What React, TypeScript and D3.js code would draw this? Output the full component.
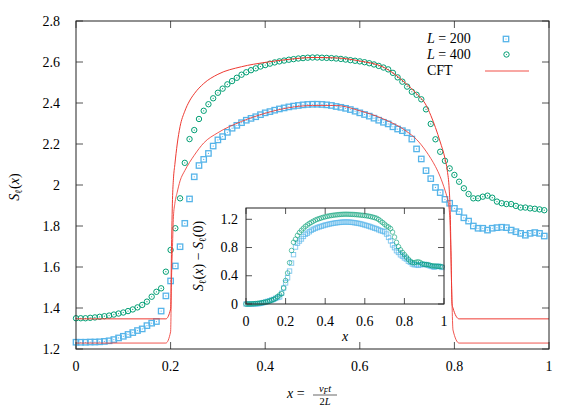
import React from "react";
import * as d3 from "d3";

const xGrid = [
  0, 0.01, 0.02, 0.03, 0.04, 0.05, 0.06, 0.07, 0.08, 0.09,
  0.1, 0.11, 0.12, 0.13, 0.14, 0.15, 0.16, 0.17, 0.18, 0.19,
  0.2, 0.21, 0.22, 0.23, 0.24, 0.25, 0.26, 0.27, 0.28, 0.29,
  0.3, 0.31, 0.32, 0.33, 0.34, 0.35, 0.36, 0.37, 0.38, 0.39,
  0.4, 0.41, 0.42, 0.43, 0.44, 0.45, 0.46, 0.47, 0.48, 0.49,
  0.5, 0.51, 0.52, 0.53, 0.54, 0.55, 0.56, 0.57, 0.58, 0.59,
  0.6, 0.61, 0.62, 0.63, 0.64, 0.65, 0.66, 0.67, 0.68, 0.69,
  0.7, 0.71, 0.72, 0.73, 0.74, 0.75, 0.76, 0.77, 0.78, 0.79,
  0.8, 0.81, 0.82, 0.83, 0.84, 0.85, 0.86, 0.87, 0.88, 0.89,
  0.9, 0.91, 0.92, 0.93, 0.94, 0.95, 0.96, 0.97, 0.98, 0.99,
];

const sL200 = [
  1.233, 1.233, 1.233, 1.234, 1.234, 1.235, 1.237, 1.24, 1.246, 1.254,
  1.262, 1.271, 1.28, 1.29, 1.298, 1.314, 1.326, 1.334, 1.385, 1.459,
  1.532, 1.605, 1.699, 1.813, 1.932, 2.04, 2.095, 2.125, 2.154, 2.19,
  2.22, 2.236, 2.257, 2.277, 2.291, 2.304, 2.316, 2.325, 2.333, 2.343,
  2.352, 2.358, 2.365, 2.371, 2.376, 2.381, 2.385, 2.388, 2.391, 2.393,
  2.394, 2.394, 2.393, 2.391, 2.388, 2.383, 2.379, 2.374, 2.368, 2.36,
  2.352, 2.344, 2.336, 2.326, 2.316, 2.306, 2.298, 2.284, 2.273, 2.265,
  2.255, 2.224, 2.176, 2.127, 2.07, 2.031, 1.988, 1.963, 1.93, 1.911,
  1.886, 1.87, 1.84, 1.824, 1.8, 1.789, 1.789, 1.78, 1.789, 1.792,
  1.794, 1.792, 1.78, 1.772, 1.764, 1.755, 1.764, 1.768, 1.764, 1.751,
];

const sL400 = [
  1.35, 1.35, 1.35, 1.352, 1.354, 1.357, 1.36, 1.363, 1.368, 1.373,
  1.378, 1.385, 1.393, 1.403, 1.415, 1.431, 1.455, 1.479, 1.496, 1.577,
  1.683, 1.789, 1.935, 2.108, 2.224, 2.268, 2.322, 2.362, 2.394, 2.423,
  2.45, 2.47, 2.491, 2.507, 2.523, 2.538, 2.55, 2.56, 2.569, 2.578,
  2.585, 2.592, 2.598, 2.603, 2.607, 2.611, 2.614, 2.617, 2.619, 2.621,
  2.622, 2.622, 2.621, 2.62, 2.619, 2.617, 2.615, 2.612, 2.609, 2.606,
  2.603, 2.599, 2.594, 2.588, 2.581, 2.573, 2.564, 2.547, 2.525, 2.504,
  2.48, 2.455, 2.44, 2.418, 2.369, 2.298, 2.223, 2.162, 2.118, 2.081,
  2.049, 2.016, 1.984, 1.956, 1.935, 1.935, 1.943, 1.948, 1.938, 1.919,
  1.911, 1.907, 1.907, 1.898, 1.89, 1.89, 1.886, 1.884, 1.881, 1.877,
];

const cftX = [
  0, 0.19, 0.2, 0.202, 0.204, 0.206, 0.209, 0.214, 0.22, 0.23, 0.24, 0.25,
  0.27, 0.3, 0.35, 0.4, 0.45, 0.5, 0.55, 0.6, 0.65, 0.7, 0.72, 0.74, 0.75,
  0.76, 0.77, 0.78, 0.785, 0.789, 0.791, 0.793, 0.795, 0.797, 0.81, 1.0,
];
const cftL400 = [
  1.347, 1.347, 1.395, 1.7, 1.93, 2.03, 2.1, 2.2, 2.285, 2.36, 2.41, 2.445,
  2.495, 2.54, 2.577, 2.598, 2.613, 2.622, 2.62, 2.605, 2.575, 2.49, 2.445, 2.39, 2.34,
  2.28, 2.21, 2.13, 2.07, 1.98, 1.88, 1.65, 1.42, 1.4, 1.347, 1.347,
];
const cftL200 = [
  1.229, 1.229, 1.284, 1.55, 1.7, 1.845, 1.91, 1.965, 2.02, 2.07, 2.11, 2.145,
  2.205, 2.255, 2.31, 2.35, 2.377, 2.388, 2.388, 2.362, 2.322, 2.26, 2.222, 2.165, 2.13,
  2.09, 2.04, 1.975, 1.935, 1.881, 1.8, 1.62, 1.42, 1.293, 1.229, 1.229,
];

const mainXTicks = [0, 0.2, 0.4, 0.6, 0.8, 1];
const mainYTicks = [1.2, 1.4, 1.6, 1.8, 2, 2.2, 2.4, 2.6, 2.8];
const insetXTicks = [0, 0.2, 0.4, 0.6, 0.8, 1];
const insetYTicks = [0, 0.4, 0.8, 1.2];
const legendValues = ["200", "400"];

const BLUE = "#56B4E9";
const GREEN = "#009E73";
const RED = "#EE3A32";
const FONT = "Liberation Serif";

const fmt = (v: number) => String(+v.toFixed(1));

function Square({ cx, cy, s, sw, dot }: { cx: number; cy: number; s: number; sw: number; dot: boolean }) {
  return (
    <g>
      <rect x={cx - s / 2} y={cy - s / 2} width={s} height={s} fill="none" stroke={BLUE} strokeWidth={sw} />
      {dot && <circle cx={cx} cy={cy} r={0.6} fill={BLUE} />}
    </g>
  );
}
function Circ({ cx, cy, r, sw, dot }: { cx: number; cy: number; r: number; sw: number; dot: boolean }) {
  return (
    <g>
      <circle cx={cx} cy={cy} r={r} fill="none" stroke={GREEN} strokeWidth={sw} />
      {dot && <circle cx={cx} cy={cy} r={0.6} fill={GREEN} />}
    </g>
  );
}

export default function App() {
  const W = 581, H = 407;
  const x = d3.scaleLinear().domain([0, 1]).range([76, 549]);
  const y = d3.scaleLinear().domain([1.2, 2.8]).range([349, 21]);
  const ix = d3.scaleLinear().domain([0, 1]).range([246, 444]);
  const iy = d3.scaleLinear().domain([0, 1.36]).range([304, 208]);

  const cftLine = d3
    .line<number>()
    .x((_, i) => x(cftX[i]))
    .y((d) => y(d))
    .curve(d3.curveMonotoneX);
  const tick = 7;
  const itick = 6;
  const s0_200 = sL200[0];
  const s0_400 = sL400[0];
  const ts = { fontFamily: FONT };
  const FS = 14;

  return (
    <svg width={W} height={H} style={{ position: "absolute", left: 0, top: 0, background: "#fff", fontFamily: FONT }}>
      <rect x={0} y={0} width={W} height={H} fill="#fff" />
      {mainXTicks.map((t) => (
        <g key={"mx" + t}>
          <line x1={x(t)} x2={x(t)} y1={349} y2={349 - tick} stroke="#555" />
          <line x1={x(t)} x2={x(t)} y1={21} y2={21 + tick} stroke="#555" />
          <text style={ts} x={x(t)} y={371} fontSize={FS} textAnchor="middle">{fmt(t)}</text>
        </g>
      ))}
      {mainYTicks.map((t) => (
        <g key={"my" + t}>
          <line x1={76} x2={76 + tick} y1={y(t)} y2={y(t)} stroke="#555" />
          <line x1={549} x2={549 - tick} y1={y(t)} y2={y(t)} stroke="#555" />
          <text style={ts} x={60} y={y(t) + 4.5} fontSize={FS} textAnchor="end">{fmt(t)}</text>
        </g>
      ))}

      {xGrid.map((xv, i) => (
        <Square key={"b" + i} cx={x(xv)} cy={y(sL200[i])} s={5.4} sw={1.3} dot={true} />
      ))}
      {xGrid.map((xv, i) => (
        <Circ key={"g" + i} cx={x(xv)} cy={y(sL400[i])} r={2.7} sw={1} dot={true} />
      ))}
      <path d={cftLine(cftL400) || ""} fill="none" stroke={RED} strokeWidth={1} />
      <path d={cftLine(cftL200) || ""} fill="none" stroke={RED} strokeWidth={1} strokeOpacity={0.85} />

      <rect x={76} y={21} width={473} height={328} fill="none" stroke="#222" strokeWidth={1} />

      {legendValues.map((v, i) => (
        <text style={ts} key={"lg" + v} x={427} y={43 + i * 16} fontSize={FS}>
          <tspan fontStyle="italic">L</tspan>
          <tspan> = {v}</tspan>
        </text>
      ))}
      <text style={ts} x={427} y={75} fontSize={FS}>CFT</text>
      <Square cx={506} cy={39} s={5.4} sw={1.3} dot={true} />
      <Circ cx={506.5} cy={54.5} r={2.7} sw={1} dot={true} />
      <line x1={485} x2={529} y1={71} y2={71} stroke={RED} strokeOpacity={0.6} strokeWidth={1.5} />

      <rect x={246} y={208} width={198} height={96} fill="#fff" />
      {xGrid.map((xv, i) => (
        <rect key={"ib" + i} x={ix(xv) - 2.2} y={iy(sL200[i] - s0_200) - 2.2} width={4.4} height={4.4}
          fill="none" stroke={BLUE} strokeWidth={0.9} strokeOpacity={0.75} />
      ))}
      {xGrid.map((xv, i) => (
        <circle key={"ig" + i} cx={ix(xv)} cy={iy(sL400[i] - s0_400)} r={2.3}
          fill="none" stroke={GREEN} strokeWidth={0.8} strokeOpacity={0.75} />
      ))}
      {insetXTicks.map((t) => (
        <g key={"ix" + t}>
          <line x1={ix(t)} x2={ix(t)} y1={304} y2={304 - itick} stroke="#555" />
          <line x1={ix(t)} x2={ix(t)} y1={208} y2={208 + itick} stroke="#555" />
          <text style={ts} x={ix(t)} y={326} fontSize={FS} textAnchor="middle">{fmt(t)}</text>
        </g>
      ))}
      {insetYTicks.map((t) => (
        <g key={"iy" + t}>
          <line x1={246} x2={246 + itick} y1={iy(t)} y2={iy(t)} stroke="#555" />
          <line x1={444} x2={444 - itick} y1={iy(t)} y2={iy(t)} stroke="#555" />
          <text style={ts} x={238} y={iy(t) + 4.5} fontSize={FS} textAnchor="end">{fmt(t)}</text>
        </g>
      ))}
      <rect x={246} y={208} width={198} height={96} fill="none" stroke="#222" strokeWidth={1} />
      <text style={ts} x={345} y={341} fontSize={FS} textAnchor="middle" fontStyle="italic">x</text>
      <text style={ts} transform="translate(203,256) rotate(-90)" fontSize={FS} textAnchor="middle">
        <tspan fontStyle="italic">S</tspan>
        <tspan fontSize={10} dy={3}>ℓ</tspan>
        <tspan dy={-3}>(</tspan>
        <tspan fontStyle="italic">x</tspan>
        <tspan>) − </tspan>
        <tspan fontStyle="italic">S</tspan>
        <tspan fontSize={10} dy={3}>ℓ</tspan>
        <tspan dy={-3}>(0)</tspan>
      </text>

      <text style={ts} transform="translate(19,187) rotate(-90)" fontSize={FS} textAnchor="middle">
        <tspan fontStyle="italic">S</tspan>
        <tspan fontSize={10} dy={3}>ℓ</tspan>
        <tspan dy={-3}>(</tspan>
        <tspan fontStyle="italic">x</tspan>
        <tspan>)</tspan>
      </text>
      <text style={ts} x={287} y={398} fontSize={FS}>
        <tspan fontStyle="italic">x</tspan>
        <tspan> = </tspan>
      </text>
      <line x1={313} x2={337} y1={395} y2={395} stroke="#000" strokeWidth={0.6} />
      <text style={ts} x={325} y={392} fontSize={10.5} textAnchor="middle">
        <tspan fontStyle="italic">v</tspan>
        <tspan fontStyle="italic" fontSize={7.5} dy={1.5}>F</tspan>
        <tspan fontStyle="italic" dy={-1.5}>t</tspan>
      </text>
      <text style={ts} x={325} y={405} fontSize={10.5} textAnchor="middle">
        <tspan>2</tspan>
        <tspan fontStyle="italic">L</tspan>
      </text>
    </svg>
  );
}
